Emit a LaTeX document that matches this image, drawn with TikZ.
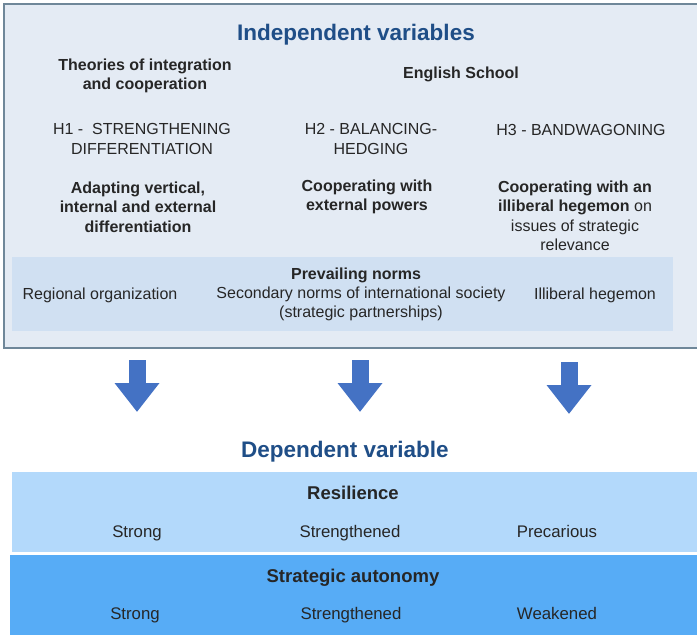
\documentclass[tikz,border=0pt]{standalone}
\usepackage{fontspec}
\setmainfont{Liberation Sans}
\usetikzlibrary{arrows.meta}
\definecolor{boxfill}{HTML}{E4EBF4}
\definecolor{boxline}{HTML}{6F8799}
\definecolor{normfill}{HTML}{D0E0F2}
\definecolor{resfill}{HTML}{B3D9FB}
\definecolor{autofill}{HTML}{57ACF6}
\definecolor{arrowblue}{HTML}{4472C4}
\definecolor{titleblue}{HTML}{1F4E87}
\begin{document}
\begin{tikzpicture}[x=1pt,y=-1pt,
    txt/.style={align=center, inner sep=0pt, text=black!85, font=\fontsize{16}{19.5}\selectfont},
    bold/.style={txt, font=\fontsize{16}{19.5}\selectfont\bfseries},
    rowtxt/.style={txt, text height=12pt, text depth=4pt, font=\fontsize{16.8}{20}\selectfont},
    rowhead/.style={txt, text height=13pt, text depth=5pt, font=\fontsize{18.5}{22}\selectfont\bfseries},
    heading/.style={inner sep=0pt, text=titleblue, font=\fontsize{22.5}{27}\selectfont\bfseries},
    downarrow/.style={line width=17pt, draw=arrowblue, -{Triangle[width=43pt,length=29pt]}}]
   \useasboundingbox (0,0) rectangle (697,635);
   % independent variables
   \draw[boxline, line width=1.5pt, fill=boxfill] (4,4) rectangle (702,348);
   \fill[normfill] (12,257) rectangle (673,331);
   \node[heading] (indep) at (356,35) {Independent variables};
   \node[bold] (theories) at (145,76) {Theories of integration\\and cooperation};
   \node[bold] (english)  at (461,74) {English School};
   \node[txt] (h1) at (142,139) {H1 -\ \ STRENGTHENING\\DIFFERENTIATION};
   \node[txt] (h2) at (371,139) {H2 - BALANCING-\\HEDGING};
   \node[txt] (h3) at (581,130) {H3 - BANDWAGONING};
   \node[bold] (adapt) at (138,207) {Adapting vertical,\\internal and external\\differentiation};
   \node[bold] (coop)  at (367,197) {Cooperating with\\external powers};
   \node[txt] (illib)  at (575,216) {\textbf{Cooperating with an}\\\textbf{illiberal hegemon} on\\issues of strategic\\relevance};
   \node[bold] (norms) at (356,275) {Prevailing norms};
   \node[txt] (regional) at (100,295) {Regional organization};
   \node[txt] (secondary) at (361,304) {Secondary norms of international society\\(strategic partnerships)};
   \node[txt] (hegemon) at (595,295) {Illiberal hegemon};
   % arrows
   \coordinate (a1) at (137,360); \coordinate (b1) at (137,412);
   \coordinate (a2) at (360,360); \coordinate (b2) at (360,412);
   \coordinate (a3) at (569,362); \coordinate (b3) at (569,414);
   \draw[downarrow] (a1) -- (b1);
   \draw[downarrow] (a2) -- (b2);
   \draw[downarrow] (a3) -- (b3);
   % dependent variable
   \node[heading] (dep) at (345,452) {Dependent variable};
   \fill[resfill] (12,472) rectangle (697,552);
   \fill[autofill] (10,555) rectangle (697,635);
   \node[rowhead] (res) at (353,495) {Resilience};
   \node[rowtxt] (r1) at (137,533) {Strong};
   \node[rowtxt] (r2) at (350,533) {Strengthened};
   \node[rowtxt] (r3) at (557,533) {Precarious};
   \node[rowhead] (auto) at (353,578) {Strategic autonomy};
   \node[rowtxt] (s1) at (135,615) {Strong};
   \node[rowtxt] (s2) at (351,615) {Strengthened};
   \node[rowtxt] (s3) at (557,615) {Weakened};
\end{tikzpicture}
\end{document}
